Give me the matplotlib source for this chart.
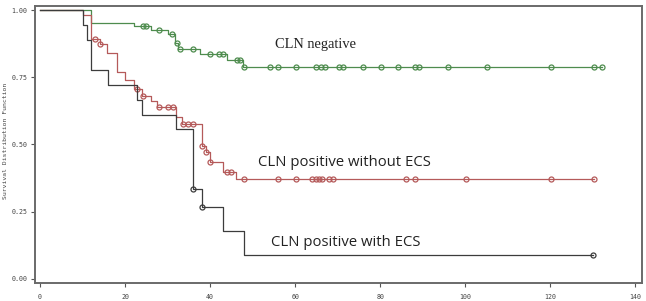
import numpy as np
import matplotlib
matplotlib.use("Agg")
import matplotlib.pyplot as plt

# ---------------- data ----------------
# CLN negative
neg_times = [0, 12, 22, 26, 30, 31.8, 32.5, 37.6, 44, 47.8, 132.3]
neg_surv = [1.0, 0.953, 0.94, 0.926, 0.911, 0.876, 0.855, 0.838, 0.814, 0.789, 0.789]
neg_cens = [24.1, 25, 28, 31, 32.1, 33, 36, 40, 42.2, 43, 46.3, 47, 48, 54, 56,
            60.2, 65, 66, 67, 70.2, 71.2, 76, 80.2, 84.2, 88.1, 89.2, 96, 105.2,
            120.2, 130.2, 132.3]

# CLN positive without ECS
pos_times = [0, 10, 12, 14, 15.8, 18, 20, 22, 24, 26, 27.5, 32, 33.3, 38, 39, 40,
             43, 46, 130.4]
pos_surv = [1.0, 0.982, 0.893, 0.874, 0.839, 0.771, 0.74, 0.705, 0.681, 0.66,
            0.639, 0.604, 0.578, 0.494, 0.473, 0.434, 0.399, 0.373, 0.373]
pos_cens = [13, 14, 22.7, 24.2, 28, 30.2, 31.2, 33.7, 34.9, 36, 38, 39, 40, 44, 45,
            48, 56, 60.2, 63.9, 64.9, 65.6, 66.4, 68, 69, 86.1, 88.2, 100.2, 120.2,
            130.4]

# CLN positive with ECS
ecs_times = [0, 10, 11, 12, 16, 22.7, 24, 32, 36, 38, 43, 48, 130]
ecs_surv = [1.0, 0.944, 0.889, 0.778, 0.722, 0.667, 0.611, 0.556, 0.333, 0.267,
            0.178, 0.089, 0.089]
ecs_cens = [36, 38, 130]

labels = ["CLN negative", "CLN positive without ECS", "CLN positive with ECS"]
x_ticks = [0, 20, 40, 60, 80, 100, 120, 140]
y_ticks = [0.0, 0.25, 0.5, 0.75, 1.0]
y_label = "Survival Distribution Function"

# ---------------- plot ----------------
fig = plt.figure(figsize=(6.46, 3.01), dpi=100)
ax = fig.add_axes([35/646, 18/301, 607/646, 277/301])

colors = {"neg": "#4e8c4e", "pos": "#b55a5a", "ecs": "#3c3c3c"}

def draw(times, surv, cens, color):
    t = np.asarray(times, float)
    s = np.asarray(surv, float)
    ax.step(t, s, where="post", color=color, lw=0.9)
    c = np.asarray(cens, float)
    idx = np.searchsorted(t, c, side="right") - 1
    ax.plot(c, s[idx], linestyle="none", marker="o", ms=3.6,
            mfc="none", mec=color, mew=0.9)

draw(neg_times, neg_surv, neg_cens, colors["neg"])
draw(pos_times, pos_surv, pos_cens, colors["pos"])
draw(ecs_times, ecs_surv, ecs_cens, colors["ecs"])

ax.set_xlim(-1.2, 141.6)
ax.set_ylim(-0.015, 1.015)

ax.set_xticks(x_ticks)
ax.set_yticks(y_ticks)
tick_font = dict(family="DejaVu Sans Mono", size=4.8)
ax.set_xticklabels([str(v) for v in x_ticks], **tick_font, color="#444444")
ax.set_yticklabels([f"{v:.2f}" for v in y_ticks], **tick_font, color="#444444")
ax.tick_params(axis="both", direction="out", length=3, width=0.8, color="#555555")
ax.tick_params(axis="x", pad=5)
ax.tick_params(axis="y", pad=2.5)

for sp in ax.spines.values():
    sp.set_color("#6a6a6a")
    sp.set_linewidth(1.4)

fig.text(6/646, 1 - 141/301, y_label, rotation=90, ha="center", va="center",
         family="DejaVu Sans Mono", size=4.6, color="#444444")

ax.text(64.7, 0.872, labels[0], ha="center", va="center",
        family="Liberation Serif", size=10.4, color="#222222")
ax.text(71.5, 0.434, labels[1], ha="center", va="center",
        family="Open Sans", size=10.7, color="#222222")
ax.text(71.8, 0.135, labels[2], ha="center", va="center",
        family="Open Sans", size=10.7, color="#222222")

fig.savefig("out.png", dpi=100)
